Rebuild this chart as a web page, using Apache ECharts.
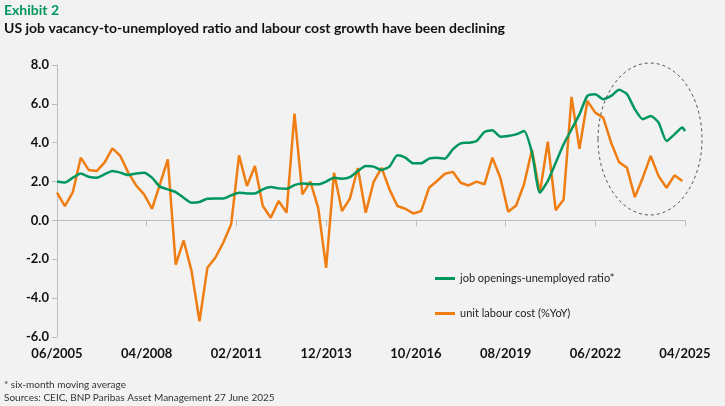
<!DOCTYPE html>
<html><head><meta charset="utf-8">
<script src="https://cdn.jsdelivr.net/npm/echarts@6/dist/echarts.min.js"></script>
<style>html,body{margin:0;padding:0;background:#f2f2f2}#c{width:725px;height:406px}</style>
</head><body><div id="c"></div>
<script>
// months 06/2005 .. 04/2025, both series sampled quarterly (every 3rd month from 06/2005)
const ulcQ = [1.43,0.74,1.46,3.23,2.6,2.54,2.97,3.71,3.32,2.46,1.8,1.34,0.6,1.86,3.14,-2.27,-1.03,-2.61,-5.19,-2.44,-1.92,-1.15,-0.2,3.35,1.77,2.8,0.74,0.14,1.0,0.4,5.5,1.34,2.0,0.65,-2.44,2.46,0.48,1.12,2.7,0.4,1.98,2.71,1.6,0.74,0.6,0.36,0.48,1.68,2.03,2.4,2.5,1.94,1.8,2.0,1.86,3.23,2.2,0.45,0.77,1.86,3.63,1.43,4.05,0.53,1.08,6.36,3.69,6.15,5.55,5.29,4.0,3.0,2.71,1.2,2.2,3.32,2.28,1.68,2.32,2.03];
const ratioQ = [2.0,1.95,2.2,2.42,2.25,2.2,2.37,2.54,2.46,2.34,2.42,2.46,2.2,1.74,1.6,1.46,1.17,0.91,0.95,1.12,1.13,1.13,1.29,1.43,1.39,1.39,1.6,1.72,1.65,1.63,1.82,1.9,1.87,1.86,2.0,2.2,2.15,2.23,2.54,2.8,2.77,2.6,2.77,3.35,3.23,2.94,2.94,3.18,3.23,3.18,3.66,3.97,4.0,4.09,4.55,4.64,4.31,4.35,4.43,4.6,3.49,1.43,2.03,2.97,3.92,4.69,5.46,6.41,6.5,6.24,6.41,6.72,6.5,5.72,5.21,5.38,5.03,4.09,4.43,4.78];
const ratioLast = 4.6; // 04/2025
const months = [];
for (let y=2005,m=6; !(y===2025&&m===5); ) { months.push(String(m).padStart(2,'0')+'/'+y); m++; if(m>12){m=1;y++;} }
const ulc = months.map((_,i)=> i%3===0 ? ulcQ[i/3] : null);
const ratio = months.map((_,i)=> i%3===0 ? ratioQ[i/3] : null);
ratio[months.length-1] = ratioLast;
const F = 'Lato, "Open Sans", sans-serif';
const ch = echarts.init(document.getElementById('c'));
ch.setOption({
  backgroundColor:'#f2f2f2',
  animation:false,
  grid:{left:57,right:40,top:65,bottom:69,containLabel:false,outerBoundsMode:'none'},
  xAxis:[{type:'category',data:months,boundaryGap:false,
    axisLine:{onZero:true,lineStyle:{color:'#bdbdbd'}},
    axisTick:{interval:33,lineStyle:{color:'#bdbdbd'},length:6},
    axisLabel:{show:false}},
   {type:'category',data:months,boundaryGap:false,position:'bottom',
    axisLine:{show:false,onZero:false},axisTick:{show:false},
    axisLabel:{interval:33,color:'#111',fontWeight:'bold',fontSize:13,fontFamily:F,margin:10}}],
  yAxis:{type:'value',min:-6,max:8,interval:2,
    axisLine:{show:true,lineStyle:{color:'#bdbdbd'}},
    axisTick:{show:true,lineStyle:{color:'#bdbdbd'}},
    splitLine:{show:false},
    axisLabel:{formatter:v=>v.toFixed(1),color:'#111',fontWeight:'bold',fontSize:13,fontFamily:F}},
  legend:{orient:'vertical',left:430,top:268,itemGap:24,itemWidth:20,
    textStyle:{fontSize:11,color:'#222',fontFamily:F},icon:'rect',itemHeight:3,
    data:['job openings-unemployed ratio*','unit labour cost (%YoY)']},
  series:[
    {name:'unit labour cost (%YoY)',type:'line',data:ulc,connectNulls:true,showSymbol:false,
     lineStyle:{color:'#ef7d12',width:2.5},itemStyle:{color:'#ef7d12'}},
    {name:'job openings-unemployed ratio*',type:'line',data:ratio,connectNulls:true,showSymbol:false,smooth:0.2,
     lineStyle:{color:'#00965e',width:2.5},itemStyle:{color:'#00965e'}}
  ],
  graphic:[
    {type:'text',left:4,top:3,style:{text:'Exhibit 2',fill:'#00965e',font:'bold 14px '+F}},
    {type:'text',left:4,top:21,style:{text:'US job vacancy-to-unemployed ratio and labour cost growth have been declining',fill:'#111',font:'bold 14px '+F}},
    {type:'text',left:4,top:380,style:{text:'* six-month moving average',fill:'#333',font:'10px '+F}},
    {type:'text',left:4,top:393,style:{text:'Sources: CEIC, BNP Paribas Asset Management 27 June 2025',fill:'#333',font:'10px '+F}},
    {type:'ellipse',shape:{cx:650,cy:139,rx:52,ry:76},style:{fill:'none',stroke:'#555',lineDash:[3,3],lineWidth:1},z:10}
  ]
});
</script></body></html>
